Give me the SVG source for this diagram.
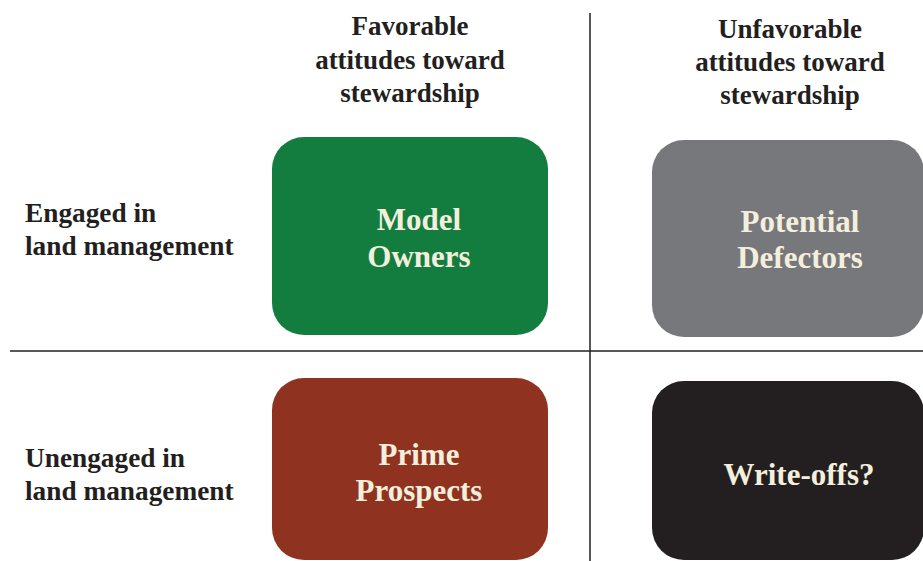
<svg xmlns="http://www.w3.org/2000/svg" width="923" height="561" viewBox="0 0 923 561">
<style>
.hdr{font-family:"Liberation Serif","Times New Roman",serif;font-weight:bold;font-size:27px;fill:#231f20;text-anchor:middle}
.lbl{font-family:"Liberation Serif","Times New Roman",serif;font-weight:bold;font-size:27.3px;fill:#231f20}
.box{font-family:"Liberation Serif","Times New Roman",serif;font-weight:bold;font-size:31px;fill:#f4efdd;text-anchor:middle}
.axis{stroke:#231f20;stroke-width:1.5;fill:none}
</style>
<rect width="923" height="561" fill="#ffffff"/>
<g id="axes" class="connectors">
<line class="axis" x1="590" y1="13" x2="590" y2="561"/>
<line class="axis" x1="10" y1="351" x2="923" y2="351"/>
</g>
<g id="header-favorable">
<text class="hdr" x="410" y="35">Favorable</text>
<text class="hdr" x="410" y="69">attitudes toward</text>
<text class="hdr" x="410" y="102">stewardship</text>
</g>
<g id="header-unfavorable">
<text class="hdr" x="790" y="38">Unfavorable</text>
<text class="hdr" x="790" y="71">attitudes toward</text>
<text class="hdr" x="790" y="104">stewardship</text>
</g>
<g id="label-engaged">
<text class="lbl" x="25" y="222">Engaged in</text>
<text class="lbl" x="25" y="255">land management</text>
</g>
<g id="label-unengaged">
<text class="lbl" x="25" y="467">Unengaged in</text>
<text class="lbl" x="25" y="500">land management</text>
</g>
<g id="model-owners">
<rect x="272" y="137" width="276" height="198" rx="32" fill="#137d3f"/>
<text class="box" x="419" y="230">Model</text>
<text class="box" x="419" y="267">Owners</text>
</g>
<g id="potential-defectors">
<rect x="652" y="140" width="272" height="197" rx="32" fill="#77787b"/>
<text class="box" x="800" y="232">Potential</text>
<text class="box" x="800" y="268">Defectors</text>
</g>
<g id="prime-prospects">
<rect x="272" y="378" width="276" height="182" rx="32" fill="#8f3320"/>
<text class="box" x="419" y="465">Prime</text>
<text class="box" x="419" y="501">Prospects</text>
</g>
<g id="write-offs">
<rect x="652" y="381" width="272" height="179" rx="32" fill="#231f20"/>
<text class="box" x="799" y="485">Write-offs?</text>
</g>
</svg>
